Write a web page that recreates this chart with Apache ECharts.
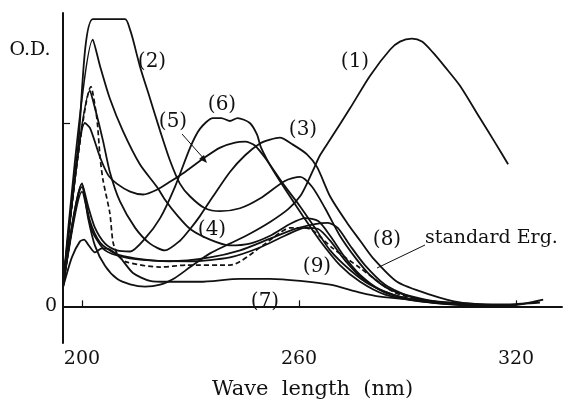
<!DOCTYPE html>
<html><head><meta charset="utf-8">
<script src="https://cdn.jsdelivr.net/npm/echarts@6/dist/echarts.min.js"></script>
<style>html,body{margin:0;padding:0;background:#fff}#c{width:579px;height:405px}</style>
</head><body><div id="c"></div>
<script>
// wavelength (nm), optical density
const curve1 = [[194.7,0.10],[200,0.67],[201.7,0.48],[203.6,0.33],[206.4,0.22],[209.7,0.15],[213.3,0.12],[217.4,0.107],[221.6,0.118],[225.7,0.155],[229.9,0.214],[235.4,0.289],[240.9,0.342],[246.4,0.396],[252.0,0.460],[257.0,0.530],[260.3,0.600],[262.2,0.670],[263.9,0.743],[265.8,0.824],[268.6,0.910],[274.1,1.080],[279.6,1.257],[285.2,1.401],[287.9,1.444],[291.2,1.460],[294.0,1.444],[297.0,1.385],[300.4,1.305],[304.5,1.203],[310.0,1.027],[314.2,0.893],[317.8,0.775]];
const curve2 = [[194.7,0.10],[198.9,0.87],[203.0,1.567],[211.9,1.567],[213.3,1.508],[214.1,1.455],[216.0,1.310],[218.8,1.134],[221.6,0.957],[224.3,0.797],[227.1,0.668],[229.9,0.599],[234.0,0.535],[238.2,0.519],[243.7,0.535],[249.2,0.588],[256.1,0.684],[260.3,0.706],[263.6,0.652],[267.2,0.535],[271.3,0.385],[275.5,0.267],[279.6,0.171],[285.2,0.091],[293.4,0.043],[301.7,0.016],[310.0,0.005],[318.3,0]];
const curve3 = [[194.7,0.10],[202.2,1.176],[203.6,1.080],[205.8,0.904],[207.7,0.733],[210.5,0.572],[214.7,0.428],[218.8,0.342],[222.9,0.305],[227.1,0.358],[229.9,0.422],[232.6,0.492],[236.2,0.599],[240.9,0.733],[245.1,0.824],[249.2,0.888],[252.0,0.909],[254.7,0.920],[258.3,0.882],[262.2,0.829],[265.0,0.759],[268.6,0.599],[273.3,0.455],[276.9,0.358],[280.5,0.262],[287.1,0.134],[296.2,0.064],[304.5,0.021],[315.6,0.005]];
const curve4 = [[194.7,0.10],[203.0,1.455],[205.0,1.310],[207.7,1.134],[211.3,0.957],[216.0,0.775],[220.7,0.652],[222.9,0.583],[226.5,0.492],[229.9,0.422],[235.4,0.364],[240.9,0.332],[246.4,0.342],[252.0,0.385],[257.5,0.449],[261.7,0.481],[265.3,0.465],[268.6,0.385],[272.7,0.267],[276.9,0.171],[282.4,0.091],[290.7,0.037],[301.7,0.011],[315.6,0]];
const curve5 = [[194.7,0.10],[200.8,1.000],[202.2,0.973],[205.0,0.813],[207.2,0.717],[209.7,0.668],[213.3,0.626],[216.9,0.610],[220.7,0.636],[224.3,0.679],[228.5,0.733],[234.0,0.813],[238.2,0.866],[242.3,0.893],[245.1,0.898],[247.8,0.877],[251.1,0.797],[255.6,0.668],[260.3,0.545],[264.4,0.428],[268.6,0.305],[274.1,0.198],[279.6,0.118],[287.9,0.053],[299.0,0.016],[310.0,0.005]];
const curve6 = [[194.7,0.10],[200,0.668],[201.7,0.545],[203.6,0.428],[206.4,0.342],[209.7,0.305],[213.3,0.299],[217.4,0.369],[221.6,0.481],[225.7,0.652],[229.9,0.866],[232.6,0.968],[236.2,1.027],[238.5,1.027],[240.9,1.011],[243.0,1.027],[246.4,1.000],[248.4,0.936],[249.5,0.866],[252.8,0.743],[257.5,0.599],[261.1,0.492],[265.8,0.358],[271.3,0.225],[276.9,0.134],[283.8,0.064],[293.4,0.027],[304.5,0.011],[315.6,0]];
const curve7 = [[194.7,0.10],[197.2,0.267],[199.4,0.353],[200.6,0.364],[201.7,0.337],[203.6,0.294],[205.5,0.316],[207.7,0.310],[210.5,0.267],[214.1,0.182],[218.8,0.139],[223.5,0.134],[232.6,0.134],[243.7,0.150],[252.0,0.150],[260.3,0.139],[268.6,0.118],[276.9,0.075],[282.4,0.053],[291.5,0.037],[301.7,0.021],[310.0,0.011],[318.3,0.011],[326.6,0.021]];
const curve8 = [[194.7,0.10],[200,0.652],[202.2,0.465],[205.0,0.348],[209.1,0.289],[214.7,0.262],[224.3,0.246],[235.4,0.267],[243.7,0.305],[252.0,0.369],[258.9,0.422],[264.4,0.449],[268.0,0.455],[270.7,0.428],[274.1,0.332],[278.2,0.225],[283.8,0.118],[290.7,0.053],[299.0,0.021],[310.0,0.005],[318.3,0.005],[327.5,0.037]];
const curve9 = [[194.7,0.10],[200,0.626],[202.8,0.412],[206.4,0.305],[211.9,0.267],[218.8,0.251],[229.9,0.246],[240.9,0.267],[249.2,0.321],[256.1,0.385],[261.7,0.428],[265.3,0.422],[268.6,0.358],[272.7,0.251],[277.4,0.155],[283.8,0.075],[293.4,0.032],[304.5,0.011],[315.6,0]];
const standardErg = [[194.7,0.10],[202.5,1.198],[204.1,1.027],[205.0,0.813],[205.8,0.690],[207.7,0.508],[208.6,0.348],[210.0,0.278],[212.4,0.241],[221.6,0.214],[229.0,0.225],[240.9,0.225],[250.0,0.332],[254.7,0.401],[257.5,0.428],[261.7,0.428],[263.9,0.412],[269.4,0.316],[276.9,0.209],[286.0,0.080],[293.4,0.037],[304.5,0.011]];
const xTickValues = [200, 260, 320];
const yTickValues = [1];
const yLabelValues = [0];
const curveNames = ['(1)','(2)','(3)','(4)','(5)','(6)','(7)','(8)','(9)'];
const curves = [curve1,curve2,curve3,curve4,curve5,curve6,curve7,curve8,curve9];

const FONT = 'DejaVu Serif';
const chart = echarts.init(document.getElementById('c'), null, {renderer:'canvas'});
const series = curves.map((d,i)=>({
  name: curveNames[i], type:'line', data:d, showSymbol:false, smooth:0.25,
  lineStyle:{color:'#111', width:1.8}, animation:false
}));
series.push({name:'standard Erg.', type:'line', data:standardErg, showSymbol:false, smooth:0.25,
  lineStyle:{color:'#111', width:1.7, type:[5,3]}, animation:false});

function txt(x,y,s,size){return {type:'text', x:x, y:y, style:{text:s, font:`${size}px "${FONT}"`, fill:'#111', align:'center', verticalAlign:'middle'}};}

chart.setOption({
  animation:false,
  backgroundColor:'#fff',
  grid:{left:63, right:17, top:13, bottom:56},
  xAxis:{type:'value', min:194.75, max:332.7,
    axisLine:{lineStyle:{color:'#111', width:2}},
    axisTick:{inside:true, length:6, customValues:xTickValues, lineStyle:{color:'#111', width:1.2}},
    axisLabel:{customValues:xTickValues, color:'#111', fontFamily:FONT, fontSize:19, margin:7},
    splitLine:{show:false},
    name:'Wave  length  (nm)', nameLocation:'middle', nameGap:36,
    nameTextStyle:{color:'#111', fontFamily:FONT, fontSize:21}
  },
  yAxis:{type:'value', min:-0.2, max:1.6,
    axisLine:{show:true, lineStyle:{color:'#111', width:2}},
    axisTick:{show:true, inside:true, length:7, customValues:yTickValues, lineStyle:{color:'#111', width:1.2}},
    axisLabel:{customValues:yLabelValues, color:'#111', fontFamily:FONT, fontSize:19, margin:6},
    splitLine:{show:false}
  },
  series:series,
  graphic:[
    txt(30,50,'O.D.',19),
    txt(355,62,'(1)',20),
    txt(152,62,'(2)',20),
    txt(303,130,'(3)',20),
    txt(212,230,'(4)',20),
    txt(173,122,'(5)',20),
    txt(222,105,'(6)',20),
    txt(265,302,'(7)',20),
    txt(387,240,'(8)',20),
    txt(317,267,'(9)',20),
    {type:'text', x:425, y:238, style:{text:'standard Erg.', font:`19px "${FONT}"`, fill:'#111', align:'left', verticalAlign:'middle'}},
    {type:'line', shape:{x1:425,y1:245,x2:377,y2:268}, style:{stroke:'#111', lineWidth:1}},
    {type:'line', shape:{x1:182,y1:134,x2:205,y2:160}, style:{stroke:'#111', lineWidth:1}},
    {type:'polygon', shape:{points:[[207,163],[199,159],[204,155]]}, style:{fill:'#111'}}
  ]
});
</script></body></html>
